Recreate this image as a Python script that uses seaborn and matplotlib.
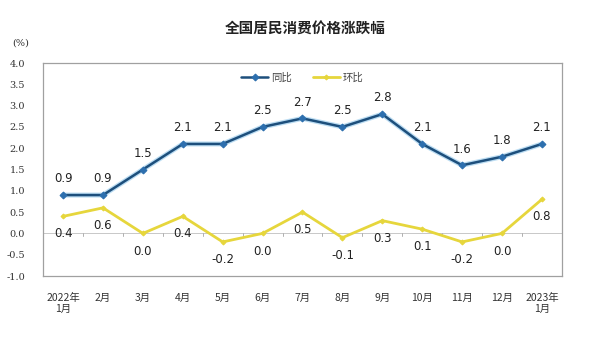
import matplotlib
matplotlib.use("Agg")
import matplotlib.pyplot as plt
import seaborn as sns
import pandas as pd
import numpy as np

months = ["2022年\n1月", "2月", "3月", "4月", "5月", "6月", "7月", "8月", "9月",
          "10月", "11月", "12月", "2023年\n1月"]
yoy = [0.9, 0.9, 1.5, 2.1, 2.1, 2.5, 2.7, 2.5, 2.8, 2.1, 1.6, 1.8, 2.1]
mom = [0.4, 0.6, 0.0, 0.4, -0.2, 0.0, 0.5, -0.1, 0.3, 0.1, -0.2, 0.0, 0.8]
yticks = [-1.0, -0.5, 0.0, 0.5, 1.0, 1.5, 2.0, 2.5, 3.0, 3.5, 4.0]

sns.set_theme(style="white")
plt.rcParams['font.family'] = ['Noto Sans CJK SC', 'DejaVu Sans']

df = pd.DataFrame({"idx": np.arange(len(months)), "同比": yoy, "环比": mom})

fig = plt.figure(figsize=(5.99, 3.37), dpi=100)
ax = fig.add_axes([0.072, 0.181, 0.866, 0.632])

blue = "#1d4f7c"
yellow = "#e6d63c"

# glow for blue line
sns.lineplot(data=df, x="idx", y="同比", ax=ax, color="#8fc6ea", lw=3.6, alpha=0.6, legend=False)
sns.lineplot(data=df, x="idx", y="同比", ax=ax, color=blue, lw=1.8, marker="D",
             markersize=3.5, markerfacecolor="#2d6fae", markeredgecolor="#2d6fae", label="同比")
sns.lineplot(data=df, x="idx", y="环比", ax=ax, color=yellow, lw=2.0, marker="D",
             markersize=2.5, markerfacecolor=yellow, markeredgecolor=yellow, label="环比")

for i, v in enumerate(yoy):
    ax.annotate(f"{v:.1f}", (i, v), xytext=(0, 7), textcoords="offset points",
                ha="center", va="bottom", fontsize=8.5, color="#222222", family="DejaVu Sans")
for i, v in enumerate(mom):
    ax.annotate(f"{v:.1f}", (i, v), xytext=(0, -8), textcoords="offset points",
                ha="center", va="top", fontsize=8.5, color="#222222", family="DejaVu Sans")

# category axis at zero
ax.axhline(0, color="#c8c8c8", lw=0.7, zorder=0)
for b in np.arange(-0.5, len(months), 1.0):
    ax.plot([b, b], [0, -0.06], color="#b0b0b0", lw=0.7, zorder=0)

ax.set_xlim(-0.5, len(months) - 0.5)
ax.set_ylim(-1.0, 4.0)
ax.set_yticks(yticks)
ax.set_yticklabels([f"{t:.1f}" for t in yticks], fontsize=7, color="#333333",
                   family="DejaVu Serif")
ax.set_xticks(np.arange(len(months)))
ax.set_xticklabels(months, fontsize=7.5, color="#333333")
ax.tick_params(axis="y", length=0, pad=13)
ax.tick_params(axis="x", length=0, pad=12)
ax.set_xlabel("")
ax.set_ylabel("")
for s in ax.spines.values():
    s.set_color("#a0a0a0")
    s.set_linewidth(0.9)

leg = ax.legend(loc="upper center", bbox_to_anchor=(0.5, 1.0), ncol=2, frameon=False,
                fontsize=7.5, handlelength=2.6, columnspacing=2.0, handletextpad=0.3)
for t in leg.get_texts():
    t.set_color("#444444")

fig.text(0.51, 0.915, "全国居民消费价格涨跌幅", ha="center", va="center",
         fontsize=10.5, fontweight="bold", color="#222222")
fig.text(0.035, 0.872, "(%)", ha="center", va="center", fontsize=7, color="#333333",
         family="DejaVu Serif")

fig.savefig("out.png", dpi=100, facecolor="white")
